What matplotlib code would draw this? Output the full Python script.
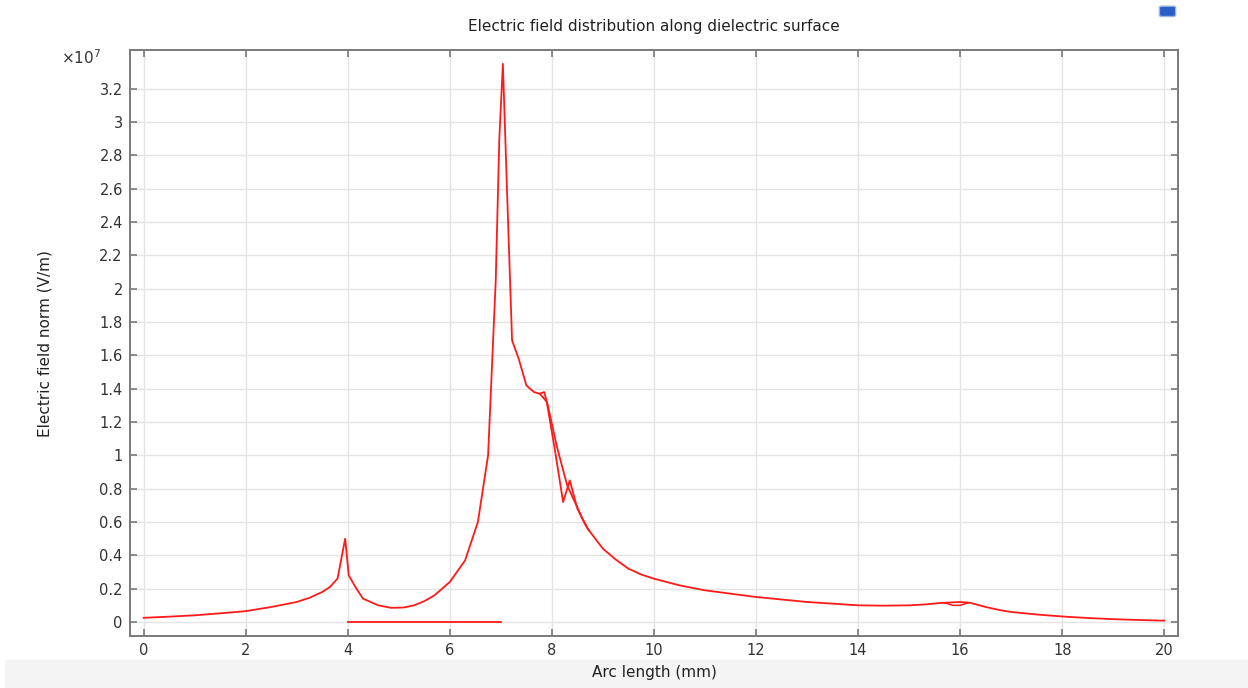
import numpy             as np
import matplotlib.pyplot as plt
from matplotlib.patches import Rectangle, FancyBboxPatch

# arc length (mm) and field norm (x 1e7 V/m)
arc_main   = [0.0, 0.5, 1.0, 1.5, 2.0, 2.5, 3.0, 3.25, 3.5, 3.65, 3.8, 3.95, 4.02, 4.15, 4.3, 4.6,
              4.85, 5.1, 5.3, 5.5, 5.7, 6.0, 6.3, 6.55, 6.75, 6.9, 6.97, 7.04, 7.12, 7.22, 7.35,
              7.5, 7.65, 7.76, 7.85, 7.9, 8.05, 8.22, 8.35, 8.5, 8.68, 8.8, 9.0, 9.25, 9.5,
              9.75, 10.0, 10.5, 11.0, 11.5, 12.0, 12.5, 13.0, 13.5, 14.0, 14.5, 15.0, 15.3,
              15.6, 16.0, 16.2, 16.5, 16.8, 17.0, 17.5, 18.0, 18.5, 19.0, 19.5, 20.0]
field_main = [0.025, 0.032, 0.04, 0.052, 0.065, 0.09, 0.12, 0.145, 0.18, 0.21, 0.26, 0.50, 0.28,
              0.21, 0.14, 0.10, 0.085, 0.087, 0.10, 0.125, 0.16, 0.24, 0.37, 0.60, 1.00, 2.05,
              2.9, 3.35, 2.6, 1.69, 1.58, 1.42, 1.38, 1.37, 1.34, 1.32, 1.05, 0.72, 0.85, 0.68,
              0.57, 0.52, 0.44, 0.375, 0.32, 0.285, 0.26, 0.22, 0.19, 0.17, 0.15, 0.135, 0.12,
              0.11, 0.10, 0.098, 0.10, 0.105, 0.114, 0.12, 0.115, 0.09, 0.07, 0.06, 0.045, 0.033,
              0.024, 0.017, 0.012, 0.008]

arc_branch   = [7.76, 7.85, 7.92, 8.1, 8.3, 8.45, 8.6, 8.72]
field_branch = [1.37, 1.38, 1.30, 1.05, 0.82, 0.72, 0.62, 0.55]

arc_dip   = [15.7, 15.85, 16.0, 16.15]
field_dip = [0.115, 0.10, 0.10, 0.115]

arc_zero   = [4.0, 7.0]
field_zero = [0.0, 0.0]

x_ticks = np.arange(0, 21, 2)
y_ticks = np.arange(0, 3.21, 0.2)
y_labels = ['%g' % round(v, 1) for v in y_ticks]

fig = plt.figure(figsize=(12.48, 6.88), dpi=100)
ax  = fig.add_axes([0.104, 0.0756, 0.840, 0.851])

red = '#ff1a1a'
ax.plot(arc_main,   field_main,   color=red, lw=1.3, solid_joinstyle='round')
ax.plot(arc_branch, field_branch, color=red, lw=1.3)
ax.plot(arc_dip,    field_dip,    color=red, lw=1.1)
ax.plot(arc_zero,   field_zero,   color=red, lw=1.3)

ax.set_xlim(-0.27, 20.27)
ax.set_ylim(-0.084, 3.43)
ax.set_xticks(x_ticks)
ax.set_xticklabels([str(v) for v in x_ticks])
ax.set_yticks(y_ticks)
ax.set_yticklabels(y_labels)

ax.grid(True, color='#e4e4e4', lw=1.0)
ax.set_axisbelow(True)
for s in ax.spines.values():
    s.set_color('#7a7a7a')
    s.set_linewidth(1.4)
ax.tick_params(direction='in', length=5, width=1.2, color='#7a7a7a',
               top=True, right=True, labelsize=10.5, labelcolor='#333333', pad=5)

ax.set_title('Electric field distribution along dielectric surface', fontsize=11, color='#222222', pad=14)
ax.set_xlabel('Arc length (mm)', fontsize=11, color='#222222', labelpad=5)
ax.set_ylabel('Electric field norm (V/m)', fontsize=11, color='#222222')
ax.yaxis.set_label_coords(-0.074, 0.5)
fig.text(0.049, 0.907, r'$\times 10^7$', fontsize=11, color='#333333')

# light strip at the bottom (behind everything) and small icon top right
fig.patches.append(Rectangle((0.004, 0.0), 0.996, 0.04, transform=fig.transFigure,
                             color='#f4f4f4', zorder=-5))
fig.patches.append(FancyBboxPatch((0.931, 0.978), 0.009, 0.011, boxstyle='round,pad=0.002',
                                  transform=fig.transFigure, facecolor='#2a5fc8',
                                  edgecolor='#9fb4dd', zorder=3))

fig.savefig('out.png', dpi=100)
